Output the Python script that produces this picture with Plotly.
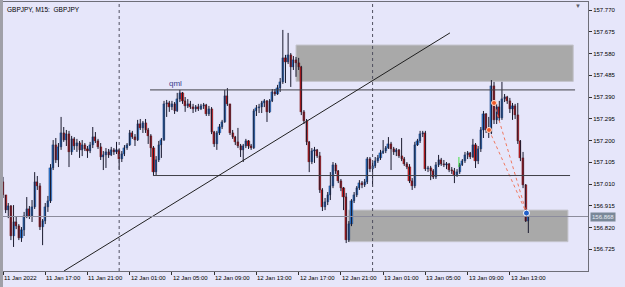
import plotly.graph_objects as go

# ---------------- data ----------------
first_open = 157.019
close = [
    156.962, 156.896, 156.914, 156.783, 156.844, 156.826, 156.774, 156.809, 156.870, 156.901,
    156.870, 156.909, 157.019, 157.001, 156.822, 156.848, 156.909, 156.936, 157.080, 157.180,
    157.115, 157.172, 157.233, 157.202, 157.228, 157.150, 157.207, 157.176, 157.189, 157.159,
    157.180, 157.163, 157.154, 157.180, 157.215, 157.198, 157.172, 157.128, 157.137, 157.150,
    157.137, 157.159, 157.150, 157.159, 157.119, 157.141, 157.167, 157.180, 157.233, 157.215,
    157.202, 157.272, 157.255, 157.277, 157.246, 157.220, 157.167, 157.062, 157.115, 157.180,
    157.202, 157.360, 157.364, 157.346, 157.360, 157.329, 157.381, 157.408, 157.373, 157.351,
    157.360, 157.346, 157.338, 157.346, 157.338, 157.351, 157.355, 157.316, 157.338, 157.237,
    157.185, 157.233, 157.259, 157.281, 157.395, 157.360, 157.233, 157.215, 157.194, 157.176,
    157.159, 157.176, 157.198, 157.176, 157.167, 157.329, 157.342, 157.346, 157.364, 157.373,
    157.325, 157.373, 157.412, 157.403, 157.429, 157.456, 157.561, 157.543, 157.574, 157.521,
    157.552, 157.539, 157.521, 157.325, 157.285, 157.194, 157.106, 157.154, 157.159, 157.132,
    156.984, 156.909, 156.931, 156.962, 157.001, 157.093, 157.067, 157.023, 156.992, 156.953,
    156.765, 156.835, 156.936, 156.962, 156.992, 157.014, 157.006, 157.019, 157.119, 157.075,
    157.089, 157.110, 157.124, 157.145, 157.154, 157.167, 157.185, 157.163, 157.150, 157.159,
    157.132, 157.119, 157.097, 157.084, 157.023, 157.001, 157.180, 157.198, 157.228, 157.233,
    157.075, 157.080, 157.067, 157.041, 157.093, 157.115, 157.097, 157.093, 157.097, 157.071,
    157.067, 157.049, 157.062, 157.093, 157.110, 157.137, 157.145, 157.128, 157.180, 157.110,
    157.163, 157.246, 157.316, 157.246, 157.233, 157.438, 157.290, 157.346, 157.298, 157.381,
    157.390, 157.373, 157.338, 157.351, 157.311, 157.198, 157.124, 157.006, 156.848, 156.868,
]
high = [
    157.041, 156.962, 156.927, 156.918, 156.918, 156.870, 156.835, 156.822, 156.888, 156.953,
    156.914, 156.940, 157.062, 157.045, 157.014, 156.857, 156.927, 156.958, 157.097, 157.202,
    157.211, 157.189, 157.303, 157.259, 157.246, 157.242, 157.220, 157.215, 157.207, 157.198,
    157.202, 157.189, 157.176, 157.194, 157.259, 157.237, 157.207, 157.189, 157.154, 157.167,
    157.163, 157.172, 157.167, 157.194, 157.163, 157.154, 157.180, 157.189, 157.246, 157.242,
    157.228, 157.290, 157.294, 157.285, 157.294, 157.255, 157.228, 157.176, 157.132, 157.198,
    157.211, 157.373, 157.377, 157.373, 157.373, 157.368, 157.408, 157.421, 157.412, 157.390,
    157.381, 157.373, 157.360, 157.355, 157.360, 157.360, 157.364, 157.360, 157.351, 157.346,
    157.242, 157.242, 157.272, 157.290, 157.421, 157.429, 157.360, 157.246, 157.220, 157.255,
    157.185, 157.185, 157.207, 157.202, 157.185, 157.338, 157.355, 157.360, 157.373, 157.381,
    157.377, 157.381, 157.425, 157.425, 157.443, 157.473, 157.683, 157.574, 157.670, 157.582,
    157.569, 157.565, 157.561, 157.526, 157.333, 157.294, 157.198, 157.167, 157.172, 157.163,
    157.150, 156.992, 156.949, 156.975, 157.062, 157.106, 157.102, 157.071, 157.032, 156.997,
    156.971, 156.848, 156.944, 156.975, 157.001, 157.027, 157.023, 157.032, 157.128, 157.128,
    157.102, 157.128, 157.137, 157.159, 157.202, 157.176, 157.215, 157.194, 157.172, 157.167,
    157.163, 157.211, 157.128, 157.106, 157.097, 157.036, 157.194, 157.207, 157.242, 157.242,
    157.242, 157.089, 157.089, 157.075, 157.106, 157.137, 157.124, 157.115, 157.106, 157.102,
    157.084, 157.080, 157.075, 157.102, 157.119, 157.150, 157.154, 157.150, 157.207, 157.189,
    157.176, 157.259, 157.329, 157.320, 157.303, 157.464, 157.456, 157.360, 157.373, 157.456,
    157.403, 157.395, 157.386, 157.364, 157.360, 157.364, 157.202, 157.150, 157.010, 156.888,
]
low = [
    156.949, 156.883, 156.861, 156.765, 156.735, 156.813, 156.765, 156.757, 156.783, 156.861,
    156.857, 156.844, 156.901, 156.984, 156.809, 156.743, 156.835, 156.888, 156.927, 157.071,
    157.102, 157.084, 157.159, 157.194, 157.176, 157.084, 157.137, 157.159, 157.150, 157.124,
    157.132, 157.154, 157.124, 157.145, 157.167, 157.189, 157.163, 157.115, 157.071, 157.080,
    157.124, 157.132, 157.137, 157.141, 157.071, 157.106, 157.132, 157.159, 157.176, 157.207,
    157.176, 157.198, 157.246, 157.233, 157.233, 157.185, 157.128, 157.049, 157.049, 157.106,
    157.124, 157.198, 157.303, 157.325, 157.333, 157.316, 157.325, 157.368, 157.360, 157.325,
    157.342, 157.338, 157.320, 157.325, 157.329, 157.333, 157.338, 157.307, 157.307, 157.228,
    157.172, 157.159, 157.224, 157.250, 157.277, 157.351, 157.224, 157.207, 157.180, 157.167,
    157.128, 157.106, 157.167, 157.163, 157.159, 157.163, 157.307, 157.320, 157.320, 157.346,
    157.281, 157.320, 157.368, 157.395, 157.399, 157.412, 157.447, 157.451, 157.534, 157.434,
    157.508, 157.478, 157.508, 157.311, 157.272, 157.180, 157.062, 157.097, 157.102, 157.124,
    156.971, 156.892, 156.896, 156.918, 156.940, 156.992, 157.054, 157.014, 156.979, 156.896,
    156.752, 156.757, 156.826, 156.927, 156.953, 156.984, 156.992, 156.997, 157.010, 157.062,
    156.997, 157.080, 157.102, 157.115, 157.141, 157.145, 157.163, 157.071, 157.137, 157.132,
    157.124, 157.110, 157.089, 157.075, 157.014, 156.984, 156.992, 157.176, 157.189, 157.215,
    157.067, 157.062, 157.027, 157.032, 157.032, 157.084, 157.089, 157.084, 157.075, 157.062,
    157.054, 157.014, 157.041, 157.054, 157.089, 157.102, 157.119, 157.119, 157.124, 157.080,
    157.097, 157.150, 157.211, 157.233, 157.211, 157.228, 157.272, 157.272, 157.285, 157.290,
    157.368, 157.360, 157.320, 157.290, 157.294, 157.185, 157.110, 156.992, 156.844, 156.796,
]

time_labels = ["11 Jan 2022", "11 Jan 17:00", "11 Jan 21:00", "12 Jan 01:00", "12 Jan 05:00",
               "12 Jan 09:00", "12 Jan 13:00", "12 Jan 17:00", "12 Jan 21:00", "13 Jan 01:00",
               "13 Jan 05:00", "13 Jan 09:00", "13 Jan 13:00"]
bars_per_label = 16                      # M15 bars between labels (4 hours)
day_breaks = [44, 140]                   # bars at 12 Jan 00:00 and 13 Jan 00:00
price_ticks = [157.770, 157.675, 157.580, 157.485, 157.390, 157.295,
               157.200, 157.105, 157.010, 156.915, 156.820, 156.725]
last_price = 156.868

# drawing objects (chart units: bar index / price)
qml_level, qml_span = 157.421, (55.7, 216.7)
support_level, support_span = 157.047, (56.8, 214.8)
supply_zone = (111.0, 216.0, 157.458, 157.617)
demand_zone = (130.8, 214.0, 156.758, 156.896)
trend_line = (23.1, 156.630, 169.3, 157.670)
trade_entries = [(184.1, 157.246), (186.0, 157.364)]
trade_exit = (198.3, 156.883)
signal_mark = (172.7, 157.084, 157.128)

# ---------------- figure ----------------
W, H = 625, 287
ML, MR, MT, MB = 3, 37, 2, 16
X_RANGE = [0, 221.6]
Y_RANGE = [156.630, 157.805]
BG = "#E6E6FA"
FONT = "Liberation Sans"

n = len(close)
opens = [first_open] + close[:-1]
xs = list(range(n))

bases, heights, fills, edges = [], [], [], []
for o, c in zip(opens, close):
    bases.append(min(o, c))
    heights.append(max(abs(c - o), 0.0008))
    if c >= o:
        fills.append("#2E7AD2"); edges.append("#102A5C")
    else:
        fills.append("#D21C1C"); edges.append("#420A0A")

wx, wy = [], []
for i, (h, l) in enumerate(zip(high, low)):
    wx += [i, i, None]
    wy += [l, h, None]

fig = go.Figure()
fig.add_trace(go.Scatter(x=wx, y=wy, mode="lines", line=dict(color="#1A1A2E", width=1),
                         hoverinfo="skip", showlegend=False))
fig.add_trace(go.Bar(x=xs, y=heights, base=bases, width=0.8,
                     marker=dict(color=fills, line=dict(color=edges, width=0.3)),
                     showlegend=False, hoverinfo="skip"))

# trade lines
for ex, ey in trade_entries:
    fig.add_trace(go.Scatter(x=[ex, trade_exit[0]], y=[ey, trade_exit[1]], mode="lines",
                             line=dict(color="#F07860", width=1, dash="dot"),
                             hoverinfo="skip", showlegend=False))
fig.add_trace(go.Scatter(x=[p[0] for p in trade_entries], y=[p[1] for p in trade_entries],
                         mode="markers", marker=dict(symbol="circle", size=5, color="#F05A28",
                                                     line=dict(color="#FFE0D0", width=1)),
                         hoverinfo="skip", showlegend=False))
fig.add_trace(go.Scatter(x=[trade_exit[0]], y=[trade_exit[1]], mode="markers",
                         marker=dict(symbol="circle", size=6, color="#2060C8",
                                     line=dict(color="#FFFFFF", width=1)),
                         hoverinfo="skip", showlegend=False))

shapes = []
for z in (supply_zone, demand_zone):
    shapes.append(dict(type="rect", xref="x", yref="y", x0=z[0], x1=z[1], y0=z[2], y1=z[3],
                       fillcolor="#A9A9A9", line=dict(color="#C4C4CC", width=1), layer="below"))
for b in day_breaks:
    shapes.append(dict(type="line", xref="x", yref="paper", x0=b, x1=b, y0=0, y1=1,
                       line=dict(color="#505060", width=1, dash="dot")))
shapes.append(dict(type="line", xref="x", yref="y", x0=qml_span[0], x1=qml_span[1],
                   y0=qml_level, y1=qml_level, line=dict(color="#404048", width=1)))
shapes.append(dict(type="line", xref="x", yref="y", x0=support_span[0], x1=support_span[1],
                   y0=support_level, y1=support_level, line=dict(color="#404048", width=1)))
shapes.append(dict(type="line", xref="x", yref="y", x0=trend_line[0], y0=trend_line[1],
                   x1=trend_line[2], y1=trend_line[3], line=dict(color="#202020", width=1)))
shapes.append(dict(type="line", xref="paper", yref="y", x0=0, x1=1, y0=last_price, y1=last_price,
                   line=dict(color="#8C8C9C", width=1)))
shapes.append(dict(type="line", xref="x", yref="y", x0=signal_mark[0], x1=signal_mark[0],
                   y0=signal_mark[1], y1=signal_mark[2], line=dict(color="#40E040", width=1)))
# outer window border on the left
shapes.append(dict(type="rect", xref="paper", yref="paper", x0=-ML / (W - ML - MR), x1=0,
                   y0=-MB / (H - MT - MB), y1=1 + MT / (H - MT - MB),
                   fillcolor="#A0A0A8", line=dict(width=0)))

annotations = []
for k, lab in enumerate(time_labels):
    annotations.append(dict(x=k * bars_per_label, y=0, xref="x", yref="paper", text=lab,
                            showarrow=False, xanchor="left", yanchor="top", xshift=-1, yshift=-2,
                            font=dict(family=FONT, size=6, color="#000000")))
annotations.append(dict(x=0, y=1, xref="paper", yref="paper", text="GBPJPY, M15:  GBPJPY",
                        showarrow=False, xanchor="left", yanchor="top", xshift=2, yshift=-2,
                        font=dict(family=FONT, size=6.5, color="#000000")))
annotations.append(dict(x=1, y=last_price, xref="paper", yref="y", text=f"{last_price:.3f}",
                        showarrow=False, xanchor="left", yanchor="middle", xshift=2,
                        bgcolor="#7A8898", borderpad=1,
                        font=dict(family=FONT, size=6, color="#E8ECF4")))
annotations.append(dict(x=65.5, y=qml_level, xref="x", yref="y", text="qml", showarrow=False,
                        yanchor="bottom", yshift=0,
                        font=dict(family=FONT, size=8, color="#3C3C8C")))
annotations.append(dict(x=0.9915, y=1, xref="paper", yref="paper", text="▼", showarrow=False,
                        yanchor="top", yshift=1, font=dict(family=FONT, size=6, color="#606068")))

fig.update_layout(
    width=W, height=H, margin=dict(l=ML, r=MR, t=MT, b=MB),
    paper_bgcolor=BG, plot_bgcolor=BG, showlegend=False,
    shapes=shapes, annotations=annotations, bargap=0,
    xaxis=dict(range=X_RANGE, showgrid=False, zeroline=False, showline=True, mirror=True,
               linecolor="#6E6E78", linewidth=1, ticks="outside", ticklen=3, tickcolor="#303030",
               tickvals=[k * bars_per_label for k in range(len(time_labels))],
               showticklabels=False, fixedrange=True),
    yaxis=dict(range=Y_RANGE, side="right", showgrid=False, zeroline=False, showline=True,
               mirror=True, linecolor="#6E6E78", linewidth=1, ticks="outside", ticklen=3,
               tickcolor="#303030", tickvals=price_ticks,
               ticktext=[f"{v:.3f}" for v in price_ticks],
               tickfont=dict(family=FONT, size=6, color="#000000"), fixedrange=True),
)

fig.write_html("out.html")
